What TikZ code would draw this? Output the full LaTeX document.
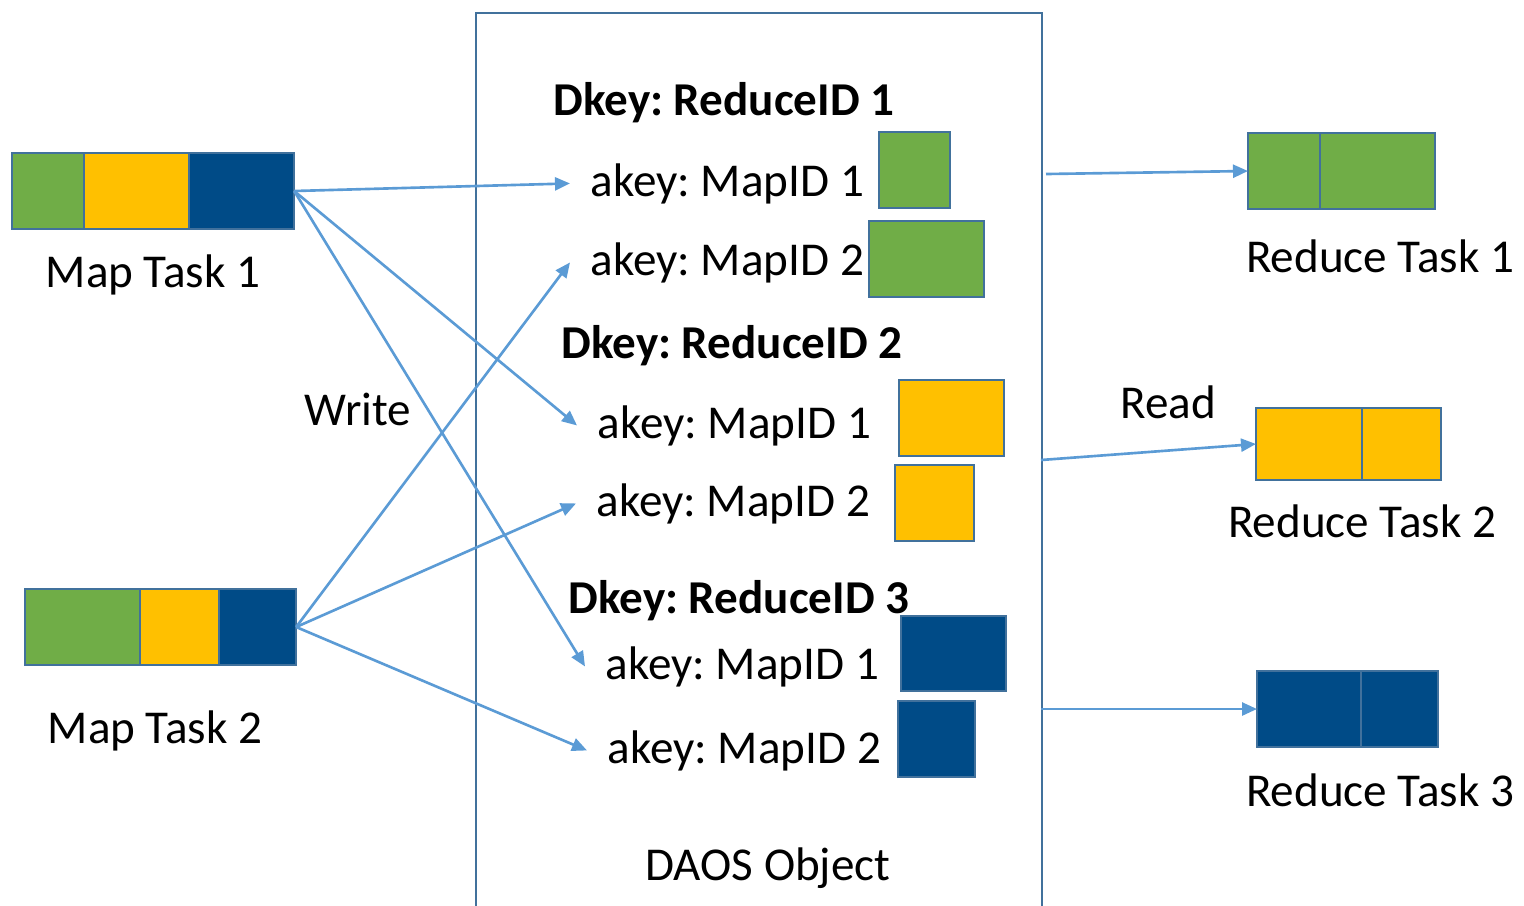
\documentclass[tikz,border=0pt]{standalone}
\usepackage{fontspec}
\setmainfont{Carlito}
\frenchspacing
\usetikzlibrary{arrows.meta,positioning}
\definecolor{cLine}{RGB}{65,113,156}
\definecolor{cArrow}{RGB}{91,155,213}
\definecolor{cGreen}{RGB}{112,173,71}
\definecolor{cYellow}{RGB}{255,192,0}
\definecolor{cBlue}{RGB}{0,75,135}

\begin{document}
\begin{tikzpicture}[
    x=0.01cm, y=-0.01cm,
    cell/.style={rectangle,draw=cLine,line width=0.7pt,outer sep=0pt,inner sep=0pt,minimum height=0.76cm},
    lbl/.style={font=\fontsize{13.4}{16}\selectfont,inner sep=0pt,anchor=base},
    dkey/.style={lbl,font=\fontsize{13.4}{16}\selectfont\bfseries,anchor=base west},
    akey/.style={font=\fontsize{13.4}{16}\selectfont,inner xsep=0.2cm,inner ysep=0pt,anchor=base west},
    wr/.style={->,cArrow,line width=0.75pt},
    >={Triangle[length=0.15cm,width=0.13cm]}
  ]
  \path[use as bounding box,clip] (0,0) rectangle (1524,905);

  % the object
  \node[draw=cLine,line width=0.6pt,inner sep=0pt,minimum width=5.66cm,minimum height=9.4cm,anchor=north west] (daos) at (475,12) {};
  \node[lbl] (obj) at (768,880) {DAOS Object};

  % map tasks
  \node[cell,fill=cGreen,minimum width=0.72cm,anchor=west] (m1a) at (12,191) {};
  \node[cell,fill=cYellow,minimum width=1.05cm,right=0pt of m1a] (m1b) {};
  \node[cell,fill=cBlue,minimum width=1.05cm,right=0pt of m1b] (m1c) {};
  \node[lbl] (map1) at (153,287) {Map Task 1};

  \node[cell,fill=cGreen,minimum width=1.15cm,anchor=west] (m2a) at (25,627) {};
  \node[cell,fill=cYellow,minimum width=0.79cm,right=0pt of m2a] (m2b) {};
  \node[cell,fill=cBlue,minimum width=0.77cm,right=0pt of m2b] (m2c) {};
  \node[lbl] (map2) at (155,743) {Map Task 2};

  \node[lbl] (write) at (358,425) {Write};

  % dkeys and akeys
  \node[dkey] (d1) at (553,115) {Dkey: ReduceID 1};
  \node[akey] (a11) at (570,196) {akey: MapID 1};
  \node[akey] (a12) at (570,275) {akey: MapID 2};
  \node[cell,fill=cGreen,minimum width=0.71cm,anchor=north west] (g1) at (879,132) {};
  \node[cell,fill=cGreen,minimum width=1.15cm,anchor=north west] (g2) at (869,221) {};

  \node[dkey] (d2) at (561,358) {Dkey: ReduceID 2};
  \node[akey] (a21) at (577,438) {akey: MapID 1};
  \node[akey] (a22) at (576,516) {akey: MapID 2};
  \node[cell,fill=cYellow,minimum width=1.05cm,anchor=north west] (y1) at (899,380) {};
  \node[cell,fill=cYellow,minimum width=0.79cm,anchor=north west] (y2) at (895,465) {};

  \node[dkey] (d3) at (568,613) {Dkey: ReduceID 3};
  \node[akey] (a31) at (585,679) {akey: MapID 1};
  \node[akey] (a32) at (587,763) {akey: MapID 2};
  \node[cell,fill=cBlue,minimum width=1.05cm,minimum height=0.75cm,anchor=north west] (b1) at (901,616) {};
  \node[cell,fill=cBlue,minimum width=0.77cm,anchor=north west] (b2) at (898,701) {};

  % reduce tasks
  \node[cell,fill=cGreen,minimum width=0.72cm,anchor=west] (r1a) at (1248,171) {};
  \node[cell,fill=cGreen,minimum width=1.15cm,right=0pt of r1a] (r1b) {};
  \node[lbl] (red1) at (1380,272) {Reduce Task 1};

  \node[cell,fill=cYellow,minimum width=1.06cm,minimum height=0.72cm,anchor=west] (r2a) at (1256,444) {};
  \node[cell,fill=cYellow,minimum width=0.79cm,minimum height=0.72cm,right=0pt of r2a] (r2b) {};
  \node[lbl] (red2) at (1362,537) {Reduce Task 2};

  \node[cell,fill=cBlue,minimum width=1.04cm,anchor=west] (r3a) at (1257,709) {};
  \node[cell,fill=cBlue,minimum width=0.77cm,right=0pt of r3a] (r3b) {};
  \node[lbl] (red3) at (1380,806) {Reduce Task 3};

  \node[lbl] (read) at (1168,418) {Read};

  % write
  \draw[wr] (m1c.east) -- (a11.west);
  \draw[wr] (m1c.east) -- (a21.west);
  \draw[wr] (m1c.east) -- (a31.west);
  \draw[wr] (m2c.east) -- (a12.west);
  \draw[wr] (m2c.east) -- (a22.west);
  \draw[wr] (m2c.east) -- (a32.west);

  % read
  \coordinate (o1) at (1046,174);
  \coordinate (o2) at (1041,460);
  \coordinate (o3) at (1041,709);
  \draw[wr] (o1) -- (r1a.west);
  \draw[wr] (o2) -- (r2a.west);
  \draw[wr] (o3) -- (r3a.west);
\end{tikzpicture}
\end{document}
